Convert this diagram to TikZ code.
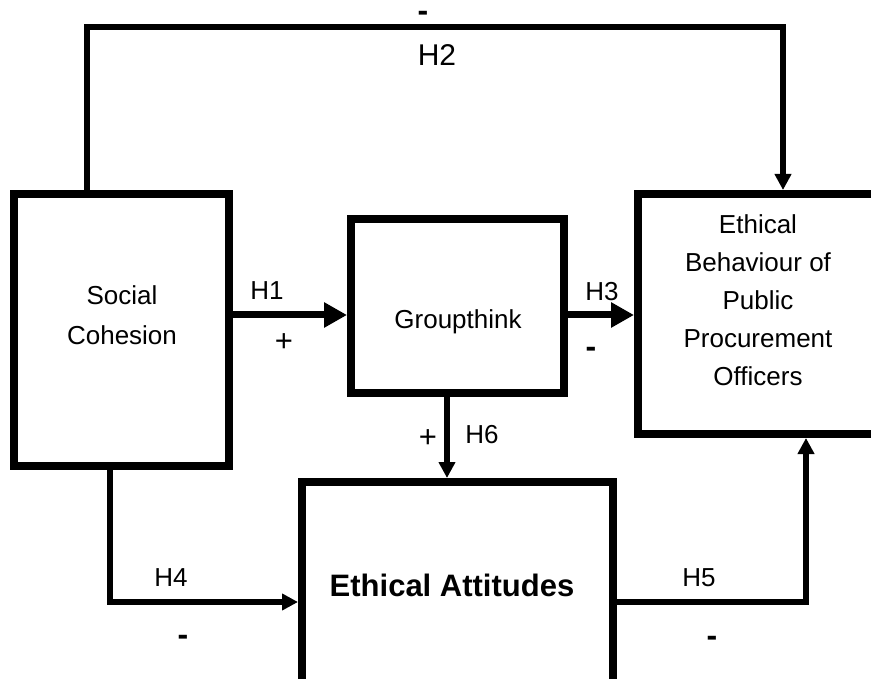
\documentclass[tikz,border=0pt]{standalone}
\usepackage{fontspec}
\setmainfont{Liberation Sans}
\usetikzlibrary{arrows.meta}
\begin{document}
\begin{tikzpicture}[x=1pt,y=-1pt,
  box/.style={draw,line width=8pt,inner sep=0pt},
  conn/.style={line width=5.5pt,-{Triangle[length=16pt,width=16pt]}},
  bigconn/.style={line width=7pt,-{Triangle[length=23pt,width=24pt]}},
  txt/.style={font=\fontsize{26}{38}\selectfont,align=center,inner sep=0pt},
  lab/.style={font=\fontsize{26}{30}\selectfont,inner sep=0pt},
  sign/.style={font=\fontsize{31}{32}\selectfont,inner sep=0pt},
  minus/.style={font=\bfseries\fontsize{32}{34}\selectfont,inner sep=0pt,
    text height=11pt,text depth=0pt,anchor=base}]
\useasboundingbox (0,0) rectangle (871,679);
\clip (0,0) rectangle (871,679);
\fill[white] (0,0) rectangle (871,679);
% boxes
\node[box,minimum width=215pt,minimum height=272pt] (sc) at (121.5,330) {};
\node[box,minimum width=213pt,minimum height=174pt] (gt) at (457.5,306) {};
\node[box,minimum width=240pt,minimum height=240pt] (eb) at (758,314) {};
\node[box,minimum width=311pt,minimum height=206pt] (ea) at (457.5,585) {};
% box texts
\node[txt,font=\fontsize{26}{40}\selectfont] (sct) at (122,315) {Social\\Cohesion};
\node[txt] (gtt) at (458,322) {Groupthink};
\node[txt] (ebt) at (758,300) {Ethical\\Behaviour of\\Public\\Procurement\\Officers};
\node[txt,font=\bfseries\fontsize{31}{38}\selectfont] (eat) at (452,585) {Ethical Attitudes};
% connectors
\coordinate (h2a) at (87,27);
\coordinate (h2b) at (783,27);
\draw[conn] (sc.north -| h2a) -- (h2a) -- (h2b) -- (eb.north -| h2b);
\draw[bigconn] (sc.east |- 0,315) -- (gt.west |- 0,315);
\draw[bigconn] (gt.east |- 0,315) -- (eb.west |- 0,315);
\coordinate (h6) at (447,0);
\draw[conn] (gt.south -| h6) -- (ea.north -| h6);
\coordinate (h4) at (110,602);
\draw[conn] (sc.south -| h4) |- (ea.west |- h4);
\coordinate (h5) at (806,602);
\draw[conn] (ea.east |- h5) -| (eb.south -| h5);
% labels
\node[minus] (m2) at (423,22) {-};
\node[lab,font=\fontsize{30}{32}\selectfont] (l2) at (437,55) {H2};
\node[lab] (l1) at (267,291) {H1};
\node[sign] (p1) at (284,343) {+};
\node[lab] (l3) at (602,292) {H3};
\node[minus] (m3) at (591,357) {-};
\node[sign] (p6) at (428,439) {+};
\node[lab] (l6) at (482,435) {H6};
\node[lab] (l4) at (171,578) {H4};
\node[minus] (m4) at (183,645) {-};
\node[lab] (l5) at (699,578) {H5};
\node[minus] (m5) at (712,646) {-};
\end{tikzpicture}
\end{document}
